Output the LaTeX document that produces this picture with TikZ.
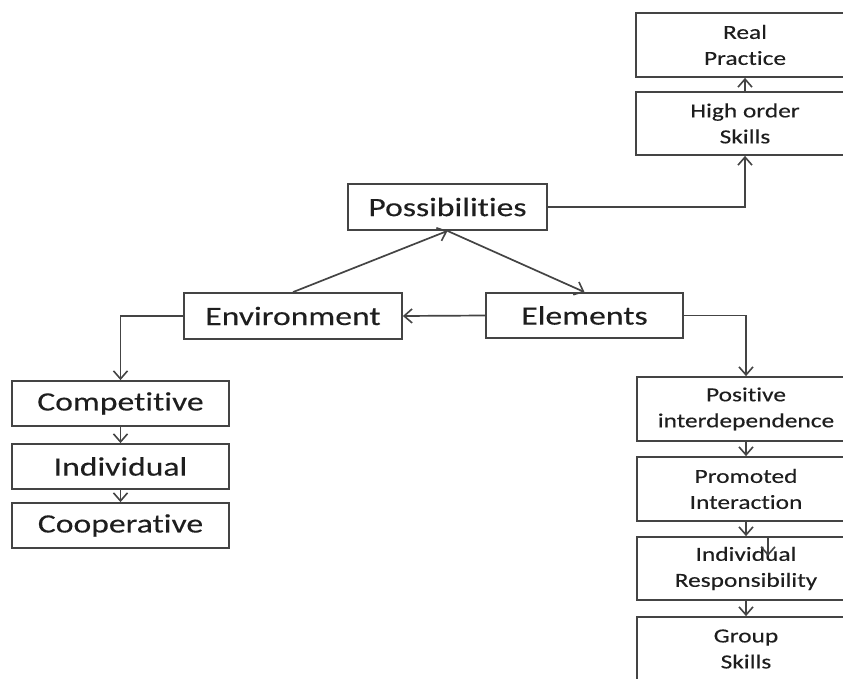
\documentclass[tikz,border=0pt]{standalone}
\usepackage{fontspec}
\setmainfont[FakeStretch=1.27,Ligatures={NoCommon},FakeBold=0.2]{Carlito}
\usetikzlibrary{arrows.meta}
\definecolor{linec}{HTML}{444444}
\definecolor{textc}{HTML}{1E1E1E}
\begin{document}
\begin{tikzpicture}[x=1pt,y=-1pt,
  box/.style={draw=linec, line width=1.8pt, fill=white, text=textc, inner sep=0pt, align=center},
  big/.style={box, font=\fontsize{26.5}{32}\selectfont},
  small/.style={box, font=\fontsize{20}{26}\selectfont},
  arr/.style={draw=linec, line width=1.7pt, -{Straight Barb[length=8pt,width=14pt,line width=1.6pt]}}]
\useasboundingbox (0,0) rectangle (843,679);
\clip (0,0) rectangle (843,679);
\fill[white] (0,0) rectangle (843,679);
% right top
\node[small, minimum width=218pt, minimum height=64pt] (real) at (745,45) {Real\\Practice};
\node[small, minimum width=218pt, minimum height=63pt] (high) at (745,123.5) {High order\\Skills};
% center
\node[big, minimum width=199pt, minimum height=46pt] (poss) at (447.5,207) {Possibilities};
\node[big, minimum width=218pt, minimum height=46pt] (env) at (293,316) {Environment};
\node[big, minimum width=197pt, minimum height=45pt] (elem) at (584.5,315.5) {Elements};
% left column
\node[big, minimum width=217pt, minimum height=45pt] (comp) at (120.5,403.5) {Competitive};
\node[big, minimum width=217pt, minimum height=45pt] (indiv) at (120.5,466.5) {Individual};
\node[big, minimum width=217pt, minimum height=45pt] (coop) at (120.5,525.5) {Cooperative};
% right column
\node[small, minimum width=218pt, minimum height=64pt] (pos) at (746,409) {Positive\\interdependence};
\node[small, minimum width=218pt, minimum height=64pt] (prom) at (746,489) {Promoted\\Interaction};
\node[small, minimum width=218pt, minimum height=63pt] (ir) at (746,568.5) {Individual\\Responsibility};
\node[small, minimum width=218pt, minimum height=64pt] (grp) at (746,649) {Group\\Skills};
% connectors
\draw[arr] (poss.east) -| (high.south);
\draw[arr] (high.north) -- (real.south);
\draw[arr] (env.north) -- (poss.south);
\draw[arr] (poss.south) -- (elem.north);
\draw[arr] (elem.west) -- (env.east);
\draw[arr] (env.west) -| (comp.north);
\draw[arr] (comp.south) -- (indiv.north);
\draw[arr] (indiv.south) -- (coop.north);
\draw[arr] (elem.east) -| (pos.north);
\draw[arr] (pos.south) -- (prom.north);
\draw[arr] (prom.south) -- (ir.north);
\draw[arr] (ir.south) -- (grp.north);
\coordinate (stray) at (768,556);
\draw[arr] ([xshift=22pt]ir.north) -- (stray);
\end{tikzpicture}
\end{document}
